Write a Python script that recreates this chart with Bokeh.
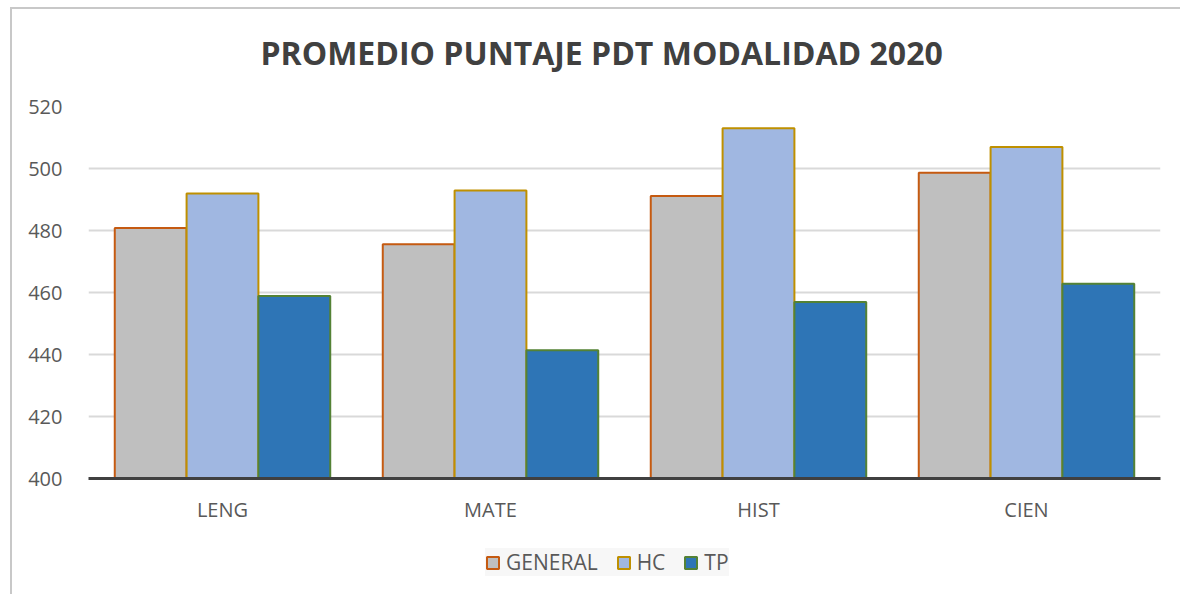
from bokeh.plotting import figure
from bokeh.models import ColumnDataSource, Legend, LegendItem
from bokeh.layouts import column
from bokeh.transform import dodge
from bokeh.embed import file_html
from bokeh.resources import INLINE

categories = ["LENG", "MATE", "HIST", "CIEN"]
general = [480.8, 475.6, 491.1, 498.6]
hc = [491.9, 492.9, 513.0, 506.9]
tp = [458.9, 441.4, 456.9, 462.8]
series = ["GENERAL", "HC", "TP"]
y_ticks = [400, 420, 440, 460, 480, 500, 520]
title_text = "PROMEDIO PUNTAJE PDT MODALIDAD 2020"

src = ColumnDataSource(dict(cat=categories, general=general, hc=hc, tp=tp))

FONT = "Open Sans"
TXT = "#595959"
FILLS = ["#BFBFBF", "#A0B7E1", "#2E75B6"]
LINES = ["#C55A11", "#BF9000", "#548235"]
cols = ["general", "hc", "tp"]
w = 0.268
offs = [-w, 0, w]

# title strip
ts = figure(width=1168, height=84, output_backend="svg", toolbar_location=None,
            x_axis_type=None, y_axis_type=None,
            min_border_left=76, min_border_right=20, min_border_top=0, min_border_bottom=0,
            x_range=(0, 1), y_range=(0, 1))
ts.outline_line_color = None
ts.grid.grid_line_color = None
ts.title.text = title_text
ts.title.align = "left"
ts.title.offset = 172
ts.title.text_font = FONT
ts.title.text_font_size = "32px"
ts.title.text_font_style = "bold"
ts.title.text_color = "#404040"
ts.title.standoff = 40

# main chart
p = figure(x_range=categories, y_range=(400, 520), width=1168, height=437,
           output_backend="svg", toolbar_location=None,
           min_border_left=76, min_border_right=20, min_border_top=13, min_border_bottom=52)
p.title.text = ""
p.title.standoff = 0

for c, o, fc, lc in zip(cols, offs, FILLS, LINES):
    p.vbar(x=dodge("cat", o, range=p.x_range), bottom=400, top=c, width=w, source=src,
           fill_color=fc, line_color=lc, line_width=2)

p.outline_line_color = None
p.xgrid.grid_line_color = None
p.ygrid.grid_line_color = "#D9D9D9"
p.ygrid.grid_line_width = 2
p.yaxis.ticker = y_ticks
p.yaxis.axis_line_color = None
p.yaxis.major_tick_line_color = None
p.yaxis.minor_tick_line_color = None
p.yaxis.major_label_text_font = FONT
p.yaxis.major_label_text_font_size = "20px"
p.yaxis.major_label_text_color = TXT
p.yaxis.major_label_standoff = 20

p.xaxis.axis_line_color = "#404040"
p.xaxis.axis_line_width = 3
p.xaxis.major_tick_line_color = None
p.xaxis.minor_tick_line_color = None
p.xaxis.major_label_text_font = FONT
p.xaxis.major_label_text_font_size = "20px"
p.xaxis.major_label_text_color = TXT
p.xaxis.major_label_standoff = 11

# legend strip below the chart (its renderers are hidden, only the key shows)
lp = figure(x_range=categories, y_range=(0, 1), width=1168, height=64,
            output_backend="svg", toolbar_location=None,
            x_axis_type=None, y_axis_type=None,
            min_border_left=76, min_border_right=20, min_border_top=0, min_border_bottom=0)
lp.outline_line_color = None
lp.grid.grid_line_color = None
items = []
for name, c, o, fc, lc in zip(series, cols, offs, FILLS, LINES):
    r = lp.vbar(x=dodge("cat", o, range=lp.x_range), bottom=400, top=c, width=w, source=src,
                fill_color=fc, line_color=lc, line_width=2)
    r.visible = False
    items.append(LegendItem(label=name, renderers=[r]))

legend = Legend(items=items, orientation="horizontal", location=(397, 18))
legend.click_policy = "none"
legend.label_text_font = FONT
legend.label_text_font_size = "21px"
legend.label_text_color = TXT
legend.glyph_width = 15
legend.glyph_height = 15
legend.spacing = 18
legend.label_standoff = 6
legend.padding = 10
legend.margin = 0
legend.background_fill_color = "#F7F7F7"
legend.border_line_color = None
lp.add_layout(legend, "center")

layout = column(ts, p, lp, spacing=0)
layout.margin = (7, 0, 0, 10)
layout.styles = {"border-left": "2px solid #C8C8C8", "border-top": "2px solid #C8C8C8"}

open("out.html", "w").write(file_html(layout, INLINE))
